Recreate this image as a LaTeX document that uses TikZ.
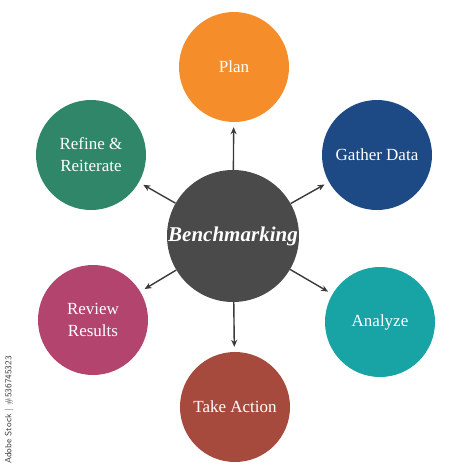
\documentclass[tikz,border=0pt]{standalone}
\usepackage{fontspec}
\setmainfont{Liberation Serif}
\usetikzlibrary{arrows.meta}
\definecolor{cplan}{HTML}{F58E2A}
\definecolor{cgather}{HTML}{1D4A84}
\definecolor{canalyze}{HTML}{18A3A5}
\definecolor{caction}{HTML}{A74A3E}
\definecolor{creview}{HTML}{B2446D}
\definecolor{crefine}{HTML}{2F8668}
\definecolor{ccenter}{HTML}{4A4A4A}
\definecolor{carrow}{HTML}{3A3A3A}
\tikzset{
  outer/.style={circle, minimum size=110pt, inner sep=0pt, text=white, align=center, font=\fontsize{17}{22}\selectfont},
  hub/.style={circle, fill=ccenter, minimum size=132pt, inner sep=0pt, text=white, font=\fontsize{21}{24}\selectfont\bfseries\itshape},
  link/.style={draw=carrow, line width=1.4pt, -{Stealth[length=7pt,width=6pt]}, shorten >=5pt}
}
\begin{document}
\begin{tikzpicture}[x=1pt,y=-1pt]
\useasboundingbox (0,0) rectangle (474,474);
\fill[white] (0,0) rectangle (474,474);
\node[hub] (c) at (233,236) {Benchmarking};
\node[outer, fill=cplan] (plan) at (234,67) {Plan};
\node[outer, fill=cgather] (gather) at (377,155) {Gather Data};
\node[outer, fill=canalyze] (analyze) at (380,322) {Analyze};
\node[outer, fill=caction] (action) at (235,407) {Take Action};
\node[outer, fill=creview] (review) at (93,320) {Review\\Results};
\node[outer, fill=crefine] (refine) at (91,155) {Refine \&\\Reiterate};
\foreach \t in {plan,gather,analyze,action,review,refine}
  \draw[link] (c) -- (\t);
\node[rotate=90, font=\sffamily\fontsize{9}{10}\selectfont, text=black!75] (wm) at (9,410) {Adobe Stock | \#536745323};
\end{tikzpicture}
\end{document}
